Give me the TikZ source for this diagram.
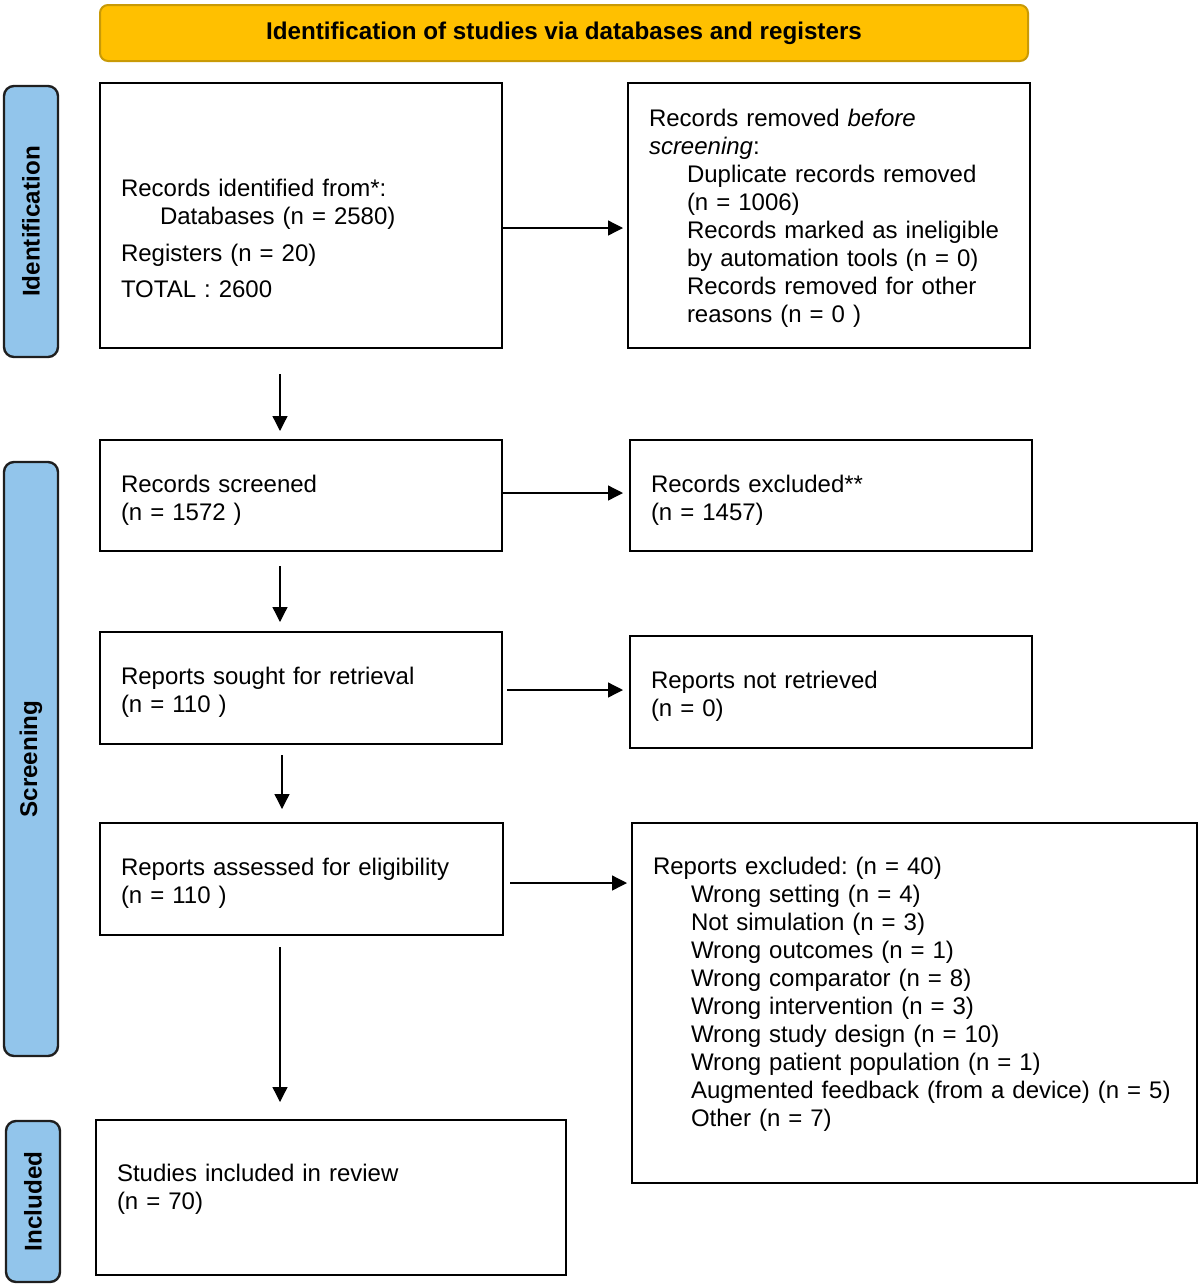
\documentclass[tikz,border=0pt]{standalone}
\usepackage{fontspec}
\setmainfont{Liberation Sans}
\usepackage{tikz}
\usetikzlibrary{arrows.meta}
\frenchspacing

\definecolor{headYellow}{HTML}{FFC000}
\definecolor{headEdge}{HTML}{C99A06}
\definecolor{sideBlue}{HTML}{92C5EB}
\definecolor{sideEdge}{HTML}{1F1F1F}
\newcommand{\topgap}{\rule{0pt}{13pt}}

\begin{document}
\begin{tikzpicture}[x=0.5pt,y=-0.5pt]
				\tikzset{box/.style = {shape=rectangle,draw,line width=1pt,
						align=left, inner xsep=10.5pt, inner ysep=0pt,
						font=\fontsize{12}{14}\selectfont}}
				\tikzset{header/.style = {shape=rectangle,draw=headEdge,fill=headYellow,
						line width=1pt, rounded corners=4pt, minimum width=464pt,
						minimum height=28pt, font=\fontsize{12.1}{14}\selectfont\bfseries}}
				\tikzset{side/.style = {shape=rectangle,draw=sideEdge,fill=sideBlue,
						line width=1.2pt, rounded corners=5pt, rotate=90,
						minimum height=27pt, inner sep=0pt,
						font=\fontsize{12.1}{14}\selectfont\bfseries}}
				\tikzset{edge/.style = {-{Triangle[length=7.5pt,width=7.5pt]}, line width=0.65pt}}
				
				\useasboundingbox (0,0) rectangle (1200,1286);
				
				% header and stages
				\node[header] (head) at (564,33) {Identification of studies via databases and registers};
				\node[side, minimum width=135.5pt] (sIdent) at (31,221.5) {Identification};
				\node[side, minimum width=297pt] (sScreen) at (31,759) {Screening};
				\node[side, minimum width=80.5pt] (sIncl) at (33,1201.5) {Included};
				
				% vertices
				\node[box, text width=180pt, minimum height=132.5pt] (ident) at (301,215.5)
					{\mbox{}\\[18pt]
					 Records identified from*:\\
					 \hspace*{19.5pt}Databases (n = 2580)\\[4.5pt]
					 Registers (n = 20)\\[4pt]
					 TOTAL : 2600};
				\node[box, text width=180pt, minimum height=132.5pt] (removed) at (829,215.5)
					{\rule{0pt}{11pt}Records removed \textit{before}\\
					 \textit{screening}:\\
					 \hspace*{19pt}Duplicate records removed\\
					 \hspace*{19pt}(n = 1006)\\
					 \hspace*{19pt}Records marked as ineligible\\
					 \hspace*{19pt}by automation tools (n = 0)\\
					 \hspace*{19pt}Records removed for other\\
					 \hspace*{19pt}reasons (n = 0 )};
				\node[box, text width=180pt, minimum height=55.5pt] (screened) at (301,495.5)
					{\topgap Records screened\\(n = 1572 )};
				\node[box, text width=180pt, minimum height=55.5pt] (excl) at (831,495.5)
					{\topgap Records excluded**\\(n = 1457)};
				\node[box, text width=180pt, minimum height=56pt] (sought) at (301,688)
					{\topgap Reports sought for retrieval\\(n = 110 )};
				\node[box, text width=180pt, minimum height=56pt] (notret) at (831,692)
					{\topgap Reports not retrieved\\(n = 0)};
				\node[box, text width=180.5pt, minimum height=56pt] (assessed) at (301.5,879)
					{\topgap Reports assessed for eligibility\\(n = 110 )};
				\node[box, text width=261.5pt, minimum height=180pt] (repexcl) at (914.5,1003)
					{\topgap Reports excluded: (n = 40)\\
					 \hspace*{19pt}Wrong setting (n = 4)\\
					 \hspace*{19pt}Not simulation (n = 3)\\
					 \hspace*{19pt}Wrong outcomes (n = 1)\\
					 \hspace*{19pt}Wrong comparator (n = 8)\\
					 \hspace*{19pt}Wrong intervention (n = 3)\\
					 \hspace*{19pt}Wrong study design (n = 10)\\
					 \hspace*{19pt}Wrong patient population (n = 1)\\
					 \hspace*{19pt}Augmented feedback (from a device) (n = 5)\\
					 \hspace*{19pt}Other (n = 7)\\[2pt]\mbox{}};
				\node[box, text width=214pt, minimum height=77.5pt] (incl) at (331,1197.5)
					{\topgap Studies included in review\\(n = 70)\\[1.5pt]\mbox{}};
				
				%edges
				\draw[edge] ([yshift=-6.25pt]ident.east) -- ([yshift=-6.25pt,xshift=-2pt]removed.west);
				\draw[edge] ([yshift=1.25pt]screened.east) -- ([yshift=1.25pt,xshift=-3pt]excl.west);
				\draw[edge] ([yshift=-1pt,xshift=2pt]sought.east) -- ([yshift=1pt,xshift=-3pt]notret.west);
				\draw[edge] ([yshift=-2pt,xshift=3pt]assessed.east) -- ([yshift=-2pt,xshift=-2pt]repexcl.west |- assessed.east);
				
				\draw[edge] ([xshift=-10.5pt,yshift=-12.5pt]ident.south) -- ([xshift=-10.5pt,yshift=4pt]screened.north);
				\draw[edge] ([xshift=-10.5pt,yshift=-7pt]screened.south) -- ([xshift=-10.5pt,yshift=4.5pt]sought.north);
				\draw[edge] ([xshift=-9.5pt,yshift=-5pt]sought.south) -- ([xshift=-9.5pt,yshift=6.5pt]sought.south |- assessed.north);
				\draw[edge] ([xshift=-10.75pt,yshift=-5.5pt]assessed.south) -- ([xshift=-10.75pt,yshift=8.5pt]assessed.south |- incl.north);
				
\end{tikzpicture}
\end{document}
